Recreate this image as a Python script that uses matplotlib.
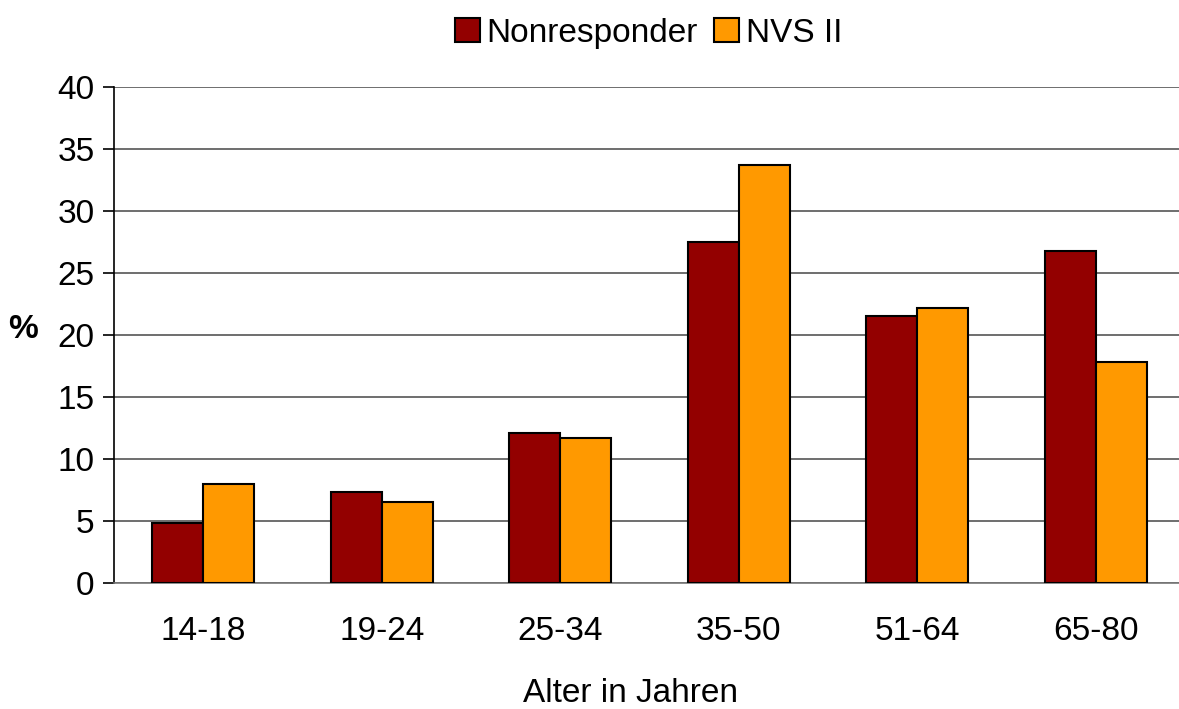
import numpy as np
import matplotlib as mpl

mpl.use('Agg')
import matplotlib.pyplot as plt

# data
categories = ['14-18', '19-24', '25-34', '35-50', '51-64', '65-80']
nonresponder = [4.8, 7.3, 12.1, 27.5, 21.5, 26.8]
nvs2 = [8.0, 6.5, 11.7, 33.7, 22.2, 17.8]
yticks = [0, 5, 10, 15, 20, 25, 30, 35, 40]

plt.rcParams['font.family'] = ['Liberation Sans', 'DejaVu Sans']

fig = plt.figure(figsize=(11.79, 7.09), dpi=100)
ax = fig.add_axes([0.0967, 0.1777, 0.9033, 0.6996])

x = np.arange(len(categories))
w = 0.286
ax.bar(x - w / 2, nonresponder, w, color='#930000', edgecolor='black',
       linewidth=1.5, label='Nonresponder', zorder=3)
ax.bar(x + w / 2, nvs2, w, color='#FF9900', edgecolor='black',
       linewidth=1.5, label='NVS II', zorder=3)

# axes
ax.set_xlim(-0.5, 5.466)
ax.set_ylim(0, 40)
ax.set_yticks(yticks)
ax.set_xticks(x)
ax.set_xticklabels(categories)
ax.grid(True, axis='y', color='#555555', linewidth=1.2, zorder=0)
for side in ['top', 'right']:
    ax.spines[side].set_visible(False)
ax.spines['bottom'].set_color('#777777')
ax.spines['bottom'].set_linewidth(1.2)
ax.spines['left'].set_linewidth(1.2)
ax.tick_params(axis='y', labelsize=24, length=8, width=1.2, pad=6)
ax.tick_params(axis='x', labelsize=24, length=0, pad=24)

# labels
ax.set_xlabel('Alter in Jahren', fontsize=24)
ax.xaxis.set_label_coords(0.485, -0.192)
ax.set_ylabel('%', fontsize=24, fontweight='bold', rotation=0, labelpad=0)
ax.yaxis.set_label_coords(-0.085, 0.48)
ax.legend(loc='upper center', bbox_to_anchor=(0.502, 1.2), ncol=2,
          frameon=False, fontsize=24, handlelength=0.75, handleheight=0.75,
          handletextpad=0.2, columnspacing=0.5)

fig.savefig('out.png', dpi=100)
plt.close(fig)
